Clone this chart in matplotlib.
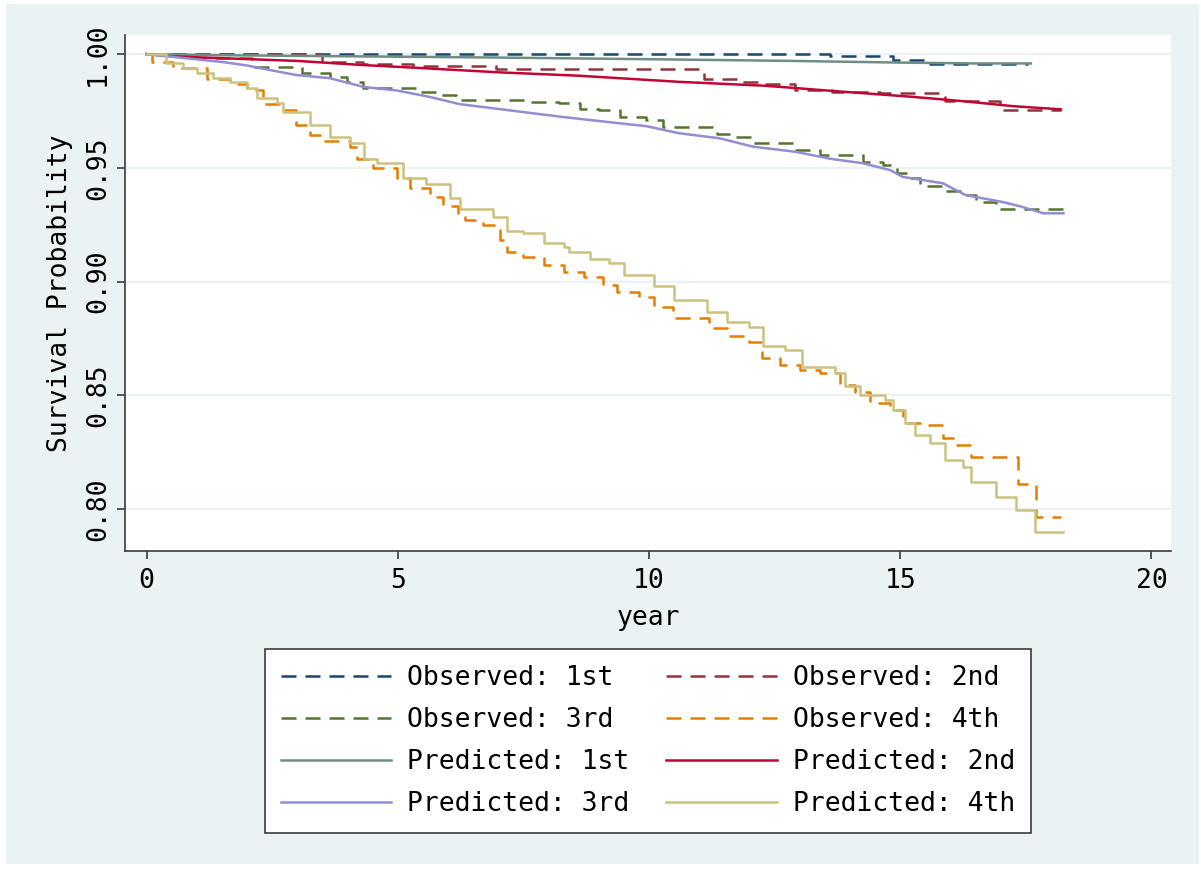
import matplotlib
matplotlib.use("Agg")
import matplotlib.pyplot as plt
from matplotlib.patches import Rectangle

plt.rcParams['font.family'] = ['DejaVu Sans Mono', 'Noto Sans CJK JP']

# observed (Kaplan-Meier) curves by quartile
obs1_t = [0, 13.6, 14.85, 15.5, 17.55]
obs1_s = [1.0, 0.9991, 0.9974, 0.9957, 0.9957]

obs2_t = [0, 3.5, 4.3, 5.3, 6.96, 11.1, 11.9, 12.3, 12.9, 13.65, 14.6, 15.9, 16.98, 18.2]
obs2_s = [1.0, 0.9966, 0.9958, 0.9947, 0.9933, 0.9889, 0.9878, 0.987, 0.9842, 0.9834, 0.983, 0.9792, 0.9756, 0.9756]

obs3_t = [0, 0.9, 2.1, 3.1, 3.65, 3.98, 4.3, 5.44, 5.8, 6.16, 7.63, 8.2, 8.62, 9.0, 9.42, 9.95,
          10.28, 11.35, 11.7, 12.07, 12.93, 13.4, 14.26, 14.66, 14.93, 15.12, 15.4, 15.9, 16.3, 16.5, 16.9, 18.3]
obs3_s = [1.0, 0.9985, 0.9943, 0.9916, 0.990, 0.9877, 0.985, 0.9833, 0.982, 0.98, 0.979, 0.9785, 0.976, 0.9755, 0.9724, 0.971,
          0.968, 0.965, 0.9635, 0.961, 0.958, 0.9556, 0.9527, 0.9512, 0.9477, 0.9455, 0.942, 0.940, 0.938, 0.935, 0.932, 0.932]

obs4_t = [0, 0.1, 0.52, 1.2, 1.66, 2.0, 2.32, 2.66, 2.98, 3.25, 3.5, 4.05, 4.18, 4.5, 4.98, 5.25, 5.64, 5.9,
          6.2, 6.34, 6.7, 7.04, 7.17, 7.5, 7.9, 8.3, 8.7, 9.08, 9.36, 9.8, 10.1, 10.48, 11.2, 11.55, 12.0,
          12.25, 12.6, 13.0, 13.4, 13.8, 14.1, 14.4, 14.8, 15.05, 15.5, 15.85, 16.1, 16.4, 17.35, 17.7, 18.2]
obs4_s = [1.0, 0.9965, 0.9938, 0.9889, 0.987, 0.984, 0.978, 0.9754, 0.9688, 0.9644, 0.962, 0.9593, 0.954, 0.9497,
          0.9455, 0.941, 0.9373, 0.933, 0.9285, 0.927, 0.9248, 0.9182, 0.913, 0.911, 0.9073, 0.904, 0.902, 0.8985,
          0.8955, 0.8933, 0.889, 0.884, 0.8795, 0.876, 0.8736, 0.8664, 0.8633, 0.861, 0.8597, 0.8545, 0.8516,
          0.8466, 0.8435, 0.8378, 0.8369, 0.8312, 0.828, 0.823, 0.811, 0.7966, 0.7966]

# predicted curves
pred1_t = [0, 1.5, 6.9, 10.2, 12.85, 14.9, 16.45, 17.6]
pred1_s = [1.0, 0.9995, 0.9985, 0.9977, 0.997, 0.9963, 0.9959, 0.9959]

pred2_t = [0, 0.5, 2.0, 3.0, 4.3, 5.6, 7.0, 8.6, 10.6, 12.3, 13.9, 15.25, 16.25, 17.25, 18.2]
pred2_s = [1.0, 0.999, 0.9978, 0.997, 0.9952, 0.9937, 0.992, 0.9905, 0.9878, 0.9861, 0.9834, 0.9812, 0.9793, 0.9771, 0.9757]

pred3_t = [0, 0.86, 1.52, 2.0, 2.45, 2.98, 3.65, 4.31, 4.98, 5.63, 6.23, 6.96, 7.5, 8.3, 8.83, 9.95, 10.6,
           11.4, 12.07, 12.93, 13.6, 14.26, 14.8, 15.05, 15.85, 16.3, 17.03, 17.4, 17.85, 18.25]
pred3_s = [1.0, 0.998, 0.9965, 0.995, 0.993, 0.9908, 0.9894, 0.9856, 0.984, 0.9812, 0.978, 0.976, 0.9745, 0.9723,
           0.971, 0.9683, 0.9652, 0.963, 0.9593, 0.957, 0.954, 0.952, 0.949, 0.946, 0.9432, 0.938, 0.935, 0.933, 0.930, 0.930]

pred4_t = [0, 0.39, 0.72, 1.0, 1.33, 1.66, 2.0, 2.19, 2.6, 2.72, 3.25, 3.65, 4.05, 4.32, 4.58, 5.1, 5.57, 6.04,
           6.23, 6.9, 7.17, 7.5, 7.9, 8.3, 8.4, 8.83, 9.2, 9.5, 10.1, 10.5, 11.15, 11.55, 12.0, 12.27, 12.7,
           13.05, 13.7, 13.9, 14.2, 14.7, 14.85, 15.1, 15.3, 15.6, 15.9, 16.25, 16.4, 16.9, 17.3, 17.68, 18.25]
pred4_s = [1.0, 0.996, 0.9938, 0.9916, 0.9894, 0.9878, 0.985, 0.9806, 0.9784, 0.9746, 0.9688, 0.9637, 0.9608,
           0.954, 0.952, 0.9455, 0.943, 0.9366, 0.932, 0.9285, 0.922, 0.9212, 0.9168, 0.9153, 0.913, 0.910, 0.908,
           0.9029, 0.898, 0.8919, 0.8867, 0.882, 0.880, 0.8716, 0.870, 0.8625, 0.8597, 0.854, 0.850, 0.848, 0.8435,
           0.8378, 0.8325, 0.829, 0.8215, 0.8186, 0.812, 0.8054, 0.7996, 0.790, 0.790]

xticks = [0, 5, 10, 15, 20]
yticks = [0.80, 0.85, 0.90, 0.95, 1.00]

bg = '#EAF2F3'
axcol = '#3a3a3a'
dash = (0, (6, 3.6))
fs = 19

fig = plt.figure(figsize=(12.01, 8.69), dpi=100, facecolor='white')
fig.patches.append(Rectangle((6/1201, 5/869), 1193/1201, 860/869, transform=fig.transFigure,
                             facecolor=bg, edgecolor='none', zorder=-10))
ax = fig.add_axes([125/1201, 1 - 551/869, 1046/1201, 516/869])
ax.set_facecolor('white')

lw = 1.8
l_o1, = ax.plot(obs1_t, obs1_s, color='#1A476F', lw=lw, ls=dash, drawstyle='steps-post', label='Observed: 1st')
l_o2, = ax.plot(obs2_t, obs2_s, color='#90353B', lw=lw, ls=dash, drawstyle='steps-post', label='Observed: 2nd')
l_o3, = ax.plot(obs3_t, obs3_s, color='#55752F', lw=lw, ls=dash, drawstyle='steps-post', label='Observed: 3rd')
l_o4, = ax.plot(obs4_t, obs4_s, color='#E37E00', lw=lw, ls=dash, drawstyle='steps-post', label='Observed: 4th')
l_p1, = ax.plot(pred1_t, pred1_s, color='#6E8E84', lw=lw, label='Predicted: 1st')
l_p2, = ax.plot(pred2_t, pred2_s, color='#C10534', lw=lw, label='Predicted: 2nd')
l_p3, = ax.plot(pred3_t, pred3_s, color='#938DD2', lw=lw, label='Predicted: 3rd')
l_p4, = ax.plot(pred4_t, pred4_s, color='#CAC27E', lw=lw, drawstyle='steps-post', label='Predicted: 4th')

ax.set_xlim(-0.43, 20.39)
ax.set_ylim(0.7815, 1.0084)
ax.set_xticks(xticks)
ax.set_yticks(yticks)
ax.set_yticklabels(['%.2f' % v for v in yticks], rotation=90, va='center', ha='right')
ax.grid(axis='y', color=bg, lw=1.6)
ax.set_axisbelow(True)
for s in ['top', 'right']:
    ax.spines[s].set_visible(False)
for s in ['left', 'bottom']:
    ax.spines[s].set_color(axcol)
    ax.spines[s].set_linewidth(1.2)
ax.tick_params(colors='black', length=6, width=1.2, labelsize=fs)
ax.tick_params(axis='x', color=axcol, pad=6)
ax.tick_params(axis='y', color=axcol, pad=4)
ax.set_xlabel('year', fontsize=fs, labelpad=8)
ax.set_ylabel('Survival Probability', fontsize=fs, labelpad=9)

handles = [l_o1, l_o3, l_p1, l_p3, l_o2, l_o4, l_p2, l_p4]
leg = fig.legend(handles=handles, labels=[h.get_label() for h in handles], ncol=2,
                 loc='center', bbox_to_anchor=(648/1201, 1 - 741/869), fontsize=fs,
                 handlelength=4.2, handletextpad=0.6, columnspacing=1.4, labelspacing=0.6,
                 borderpad=0.6, fancybox=False, framealpha=1)
leg.get_frame().set_edgecolor(axcol)
leg.get_frame().set_linewidth(1.2)

fig.savefig('out.png', dpi=100, facecolor=fig.get_facecolor())
